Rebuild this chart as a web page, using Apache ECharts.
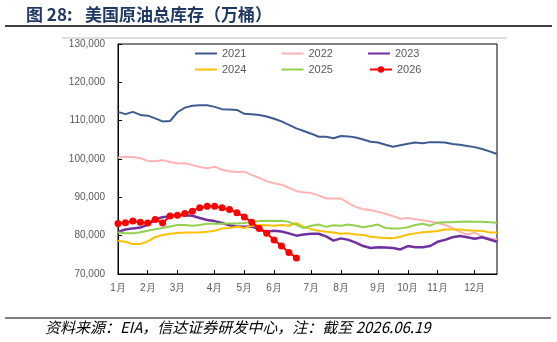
<!DOCTYPE html>
<html>
<head>
<meta charset="utf-8">
<script src="https://cdn.jsdelivr.net/npm/echarts@6/dist/echarts.min.js"></script>
<style>
    html, body {margin: 0; padding: 0; background: #fff;}
    #mychart {width: 557px; height: 342px;}
</style>
</head>
<body>
<div id="mychart"></div>
<script>
// weekly stocks, 10k barrels
var weeks = [];
for (var w = 1; w <= 52; w++) weeks.push('W' + w);

var monthStart = [0, 4, 8, 13, 17, 21, 26, 30, 35, 39, 43, 48];
var monthLabels = ['1月', '2月', '3月', '4月', '5月', '6月', '7月', '8月', '9月', '10月', '11月', '12月'];

var y2021 = [112300, 111700, 112300, 111500, 111300, 110600, 109800, 109900, 112200, 113400, 113900, 114000, 114000,
    113600, 113000, 112900, 112800, 111800, 111700, 111500, 111100, 110500, 109800, 108900, 108000, 107300,
    106600, 105800, 105800, 105400, 106000, 105900, 105600, 105100, 104500, 104300, 103700, 103200, 103600,
    104000, 104300, 104100, 104400, 104400, 104300, 103900, 103700, 103400, 103100, 102600, 102000, 101300];
var y2022 = [100400, 100500, 100500, 100200, 99500, 99400, 99700, 99200, 98800, 98900, 98400, 97900, 97600,
    98000, 97200, 96800, 96600, 96700, 95800, 95100, 94200, 93700, 93300, 92500, 91600, 91300,
    91100, 90500, 89700, 89700, 89700, 88500, 87500, 86900, 86700, 86200, 85700, 85100, 84400,
    84600, 84300, 84000, 83700, 83300, 82800, 82000, 81000, 80300, 80800, 79800, 79200, 79000];
var y2023 = [81000, 81600, 81900, 82100, 82800, 84300, 84800, 85100, 85300, 85300, 85200, 84600, 84100,
    83800, 83300, 82700, 82400, 82300, 82400, 81700, 81000, 81300, 81100, 80600, 80000, 80300,
    80500, 80500, 79800, 78700, 79300, 78900, 78200, 77300, 76800, 77000, 76900, 76800, 76400,
    77300, 77000, 77000, 77300, 78400, 78900, 79600, 79900, 79600, 79200, 79600, 79000, 78400];
var y2024 = [78700, 78400, 77800, 77800, 78500, 79600, 80200, 80500, 80700, 80800, 80800, 80800, 81000,
    81300, 81900, 82000, 82300, 82000, 82600, 82800, 82700, 82600, 82800, 82600, 83300, 82300,
    81700, 81300, 81000, 80800, 80500, 80600, 80300, 80200, 79700, 79500, 79400, 79300, 79700,
    80300, 80600, 80900, 81000, 81200, 81600, 81600, 81600, 81400, 81300, 81300, 80800, 80800];
var y2025 = [80800, 80600, 80600, 80900, 81300, 81700, 82000, 82400, 82800, 82800, 82600, 82800, 83100,
    83100, 83100, 83200, 83200, 83300, 83600, 83800, 83900, 83800, 83900, 83600, 82800, 82000,
    82600, 82900, 82300, 82700, 82600, 82900, 82600, 82200, 82500, 82900, 82000, 81900, 81900,
    82200, 82800, 83100, 82600, 83400, 83500, 83500, 83600, 83700, 83600, 83600, 83500, 83400];
var y2026 = [83200, 83400, 83800, 83500, 83300, 84200, 83300, 85100, 85300, 85800, 86400, 87300, 87700,
    87700, 87300, 86800, 86000, 84900, 83500, 81900, 80600, 78900, 77300, 75600, 74200];

var labelColor = '#595959';

function line(name, data, color, width) {
    return {
        name: name,
        type: 'line',
        data: data,
        symbol: 'none',
        smooth: false,
        lineStyle: {color: color, width: width},
        itemStyle: {color: color}
    };
}

function legendRow(left, top, names, icon, h) {
    return {
        left: left,
        top: top,
        padding: 0,
        icon: icon,
        itemWidth: 22,
        itemHeight: h,
        itemGap: 35,
        textStyle: {color: labelColor, fontSize: 11},
        data: names
    };
}

var s2026 = line('2026', y2026, '#FF0000', 2);
s2026.symbol = 'circle';
s2026.symbolSize = 7;
s2026.showSymbol = true;
s2026.showAllSymbol = true;

var option = {
    animation: false,
    textStyle: {fontFamily: 'Liberation Sans'},
    grid: {
        show: true,
        left: 118,
        right: 60,
        top: 44,
        bottom: 68,
        borderColor: '#000',
        borderWidth: 1
    },
    legend: [
        legendRow(195, 48, ['2021', '2022', '2023'], 'rect', 2),
        legendRow(195, 64, ['2024', '2025'], 'rect', 2),
        legendRow(369, 64, ['2026'], undefined, 8)
    ],
    xAxis: {
        type: 'category',
        boundaryGap: false,
        data: weeks,
        axisLine: {lineStyle: {color: '#000', width: 1}},
        axisTick: {
            inside: true,
            length: 4,
            lineStyle: {color: '#000'},
            interval: function (idx) {
                return monthStart.indexOf(idx) > 0;
            }
        },
        axisLabel: {
            color: labelColor,
            fontSize: 10,
            margin: 9,
            interval: function (idx) {
                return monthStart.indexOf(idx) >= 0;
            },
            formatter: function (v, idx) {
                var k = monthStart.indexOf(idx);
                return k >= 0 ? monthLabels[k] : '';
            }
        },
        splitLine: {show: false}
    },
    yAxis: {
        type: 'value',
        min: 70000,
        max: 130000,
        interval: 10000,
        axisLine: {show: true, lineStyle: {color: '#000', width: 1}},
        axisTick: {show: true, inside: true, length: 4, lineStyle: {color: '#000'}},
        axisLabel: {
            color: labelColor,
            fontSize: 10,
            margin: 13,
            formatter: function (v) {
                return v.toLocaleString('en-US');
            }
        },
        splitLine: {show: false}
    },
    graphic: [
        {
            type: 'text', left: 26, top: 6,
            style: {text: '图 28:', font: 'bold 17px "Noto Sans CJK SC"', fill: '#1F3864'}
        },
        {
            type: 'text', left: 85, top: 6,
            style: {text: '美国原油总库存（万桶）', font: 'bold 17px "Noto Sans CJK SC"', fill: '#1F3864'}
        },
        {
            type: 'line', shape: {x1: 5, y1: 26, x2: 552, y2: 26},
            style: {stroke: '#000', lineWidth: 1.5}
        },
        {
            type: 'line', shape: {x1: 62, y1: 38, x2: 507, y2: 38},
            style: {stroke: '#BFBFBF', lineWidth: 1}
        },
        {
            type: 'line', shape: {x1: 5, y1: 318, x2: 551, y2: 318},
            style: {stroke: '#000', lineWidth: 1}
        },
        {
            type: 'text', left: 45, top: 320,
            style: {
                text: '资料来源：EIA，信达证券研发中心，注：截至 2026.06.19',
                font: 'italic 15px "Noto Sans CJK SC"',
                fill: '#000'
            }
        }
    ],
    series: [
        line('2021', y2021, '#3E5B91', 2),
        line('2022', y2022, '#FFB3B3', 2),
        line('2023', y2023, '#7030A0', 2.5),
        line('2024', y2024, '#FFC000', 2),
        line('2025', y2025, '#92D050', 2),
        s2026
    ]
};

var mychart = echarts.init(document.getElementById('mychart'));
mychart.setOption(option);
</script>
</body>
</html>
